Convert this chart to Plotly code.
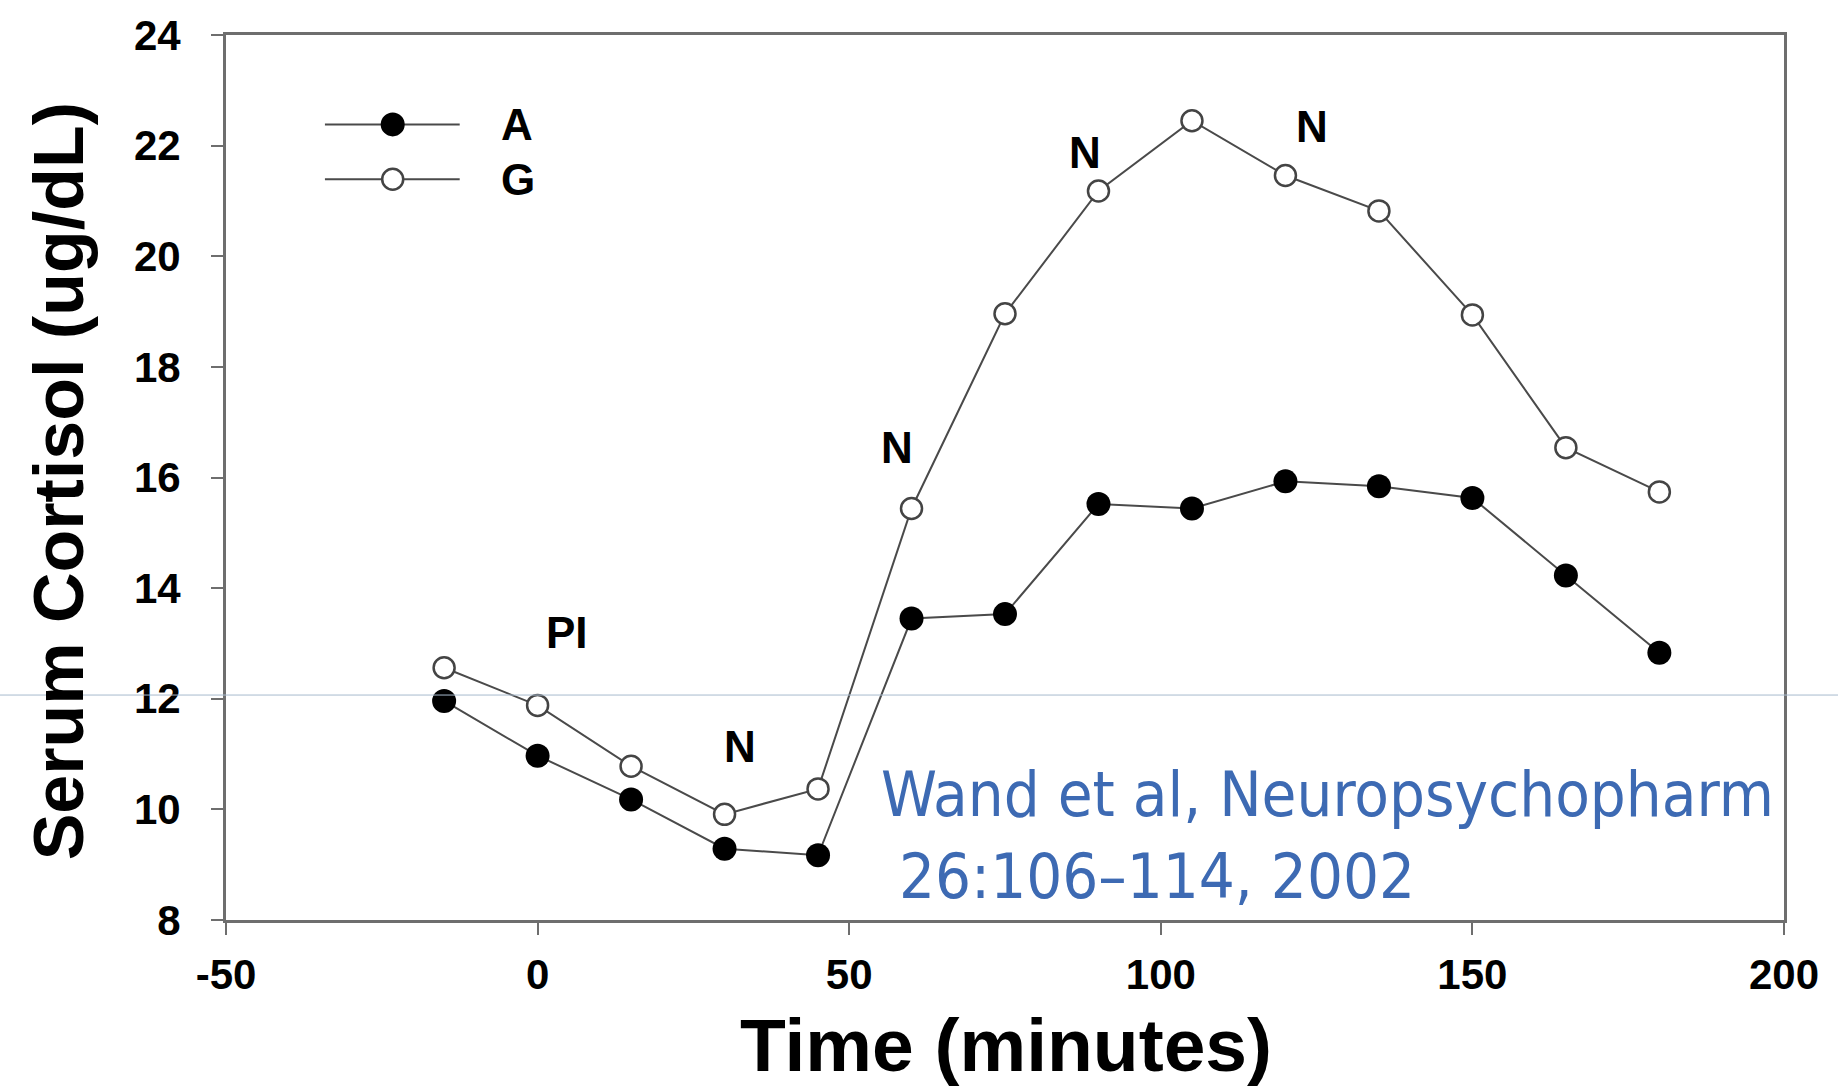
import plotly.graph_objects as go

# Sampling times (minutes) and mean serum cortisol for the two groups
time_min = [-15, 0, 15, 30, 45, 60, 75, 90, 105, 120, 135, 150, 165, 180]
cortisol_a = [11.96, 10.97, 10.18, 9.29, 9.17, 13.45, 13.53, 15.52, 15.44, 15.93, 15.84, 15.63, 14.23, 12.83]
cortisol_g = [12.56, 11.88, 10.78, 9.91, 10.37, 15.44, 18.96, 21.18, 22.45, 21.46, 20.82, 18.94, 16.54, 15.74]

x_ticks = [-50, 0, 50, 100, 150, 200]
x_tick_text = ["-50", "0", "50", "100", "150", "200"]
y_ticks = [8, 10, 12, 14, 16, 18, 20, 22, 24]

# Event labels placed over the curves (time, cortisol, text)
event_x = [4.7, 32.4, 57.6, 87.8, 124.2]
event_y = [13.19, 11.14, 16.54, 21.88, 22.35]
event_text = ["PI", "N", "N", "N", "N"]

LINE = "#4a4a4a"
AXIS = "#6e6e6e"
FONT = "Liberation Sans, Arial, sans-serif"

fig = go.Figure()
fig.add_trace(go.Scatter(
    x=time_min, y=cortisol_a, mode="lines+markers", name="A",
    line=dict(color=LINE, width=2),
    marker=dict(symbol="circle", size=24, color="#000000", line=dict(width=0)),
    showlegend=False,
))
fig.add_trace(go.Scatter(
    x=time_min, y=cortisol_g, mode="lines+markers", name="G",
    line=dict(color=LINE, width=2),
    marker=dict(symbol="circle", size=21, color="#ffffff", line=dict(color="#444444", width=2.5)),
    showlegend=False,
))

annotations = []
for ex, ey, et in zip(event_x, event_y, event_text):
    annotations.append(dict(
        x=ex, y=ey, xref="x", yref="y", text=et, showarrow=False,
        font=dict(family=FONT, size=44, color="#000000", weight="bold"),
    ))

# Hand-drawn key in the upper-left corner
shapes = []
key_rows = [(0.899, "A", "#000000", "#000000"), (0.837, "G", "#ffffff", "#444444")]
for ky, label, fill, edge in key_rows:
    shapes.append(dict(type="line", xref="paper", yref="paper",
                       x0=0.0635, x1=0.150, y0=ky, y1=ky,
                       line=dict(color=LINE, width=2)))
    r = 12 if label == "A" else 10.5
    shapes.append(dict(type="circle", xref="paper", yref="paper",
                       xsizemode="pixel", ysizemode="pixel",
                       xanchor=0.107, yanchor=ky, x0=-r, x1=r, y0=-r, y1=r,
                       fillcolor=fill, line=dict(color=edge, width=2.5 if label == "G" else 0)))
    annotations.append(dict(
        x=0.175, y=ky, xref="paper", yref="paper", text=label, showarrow=False,
        xanchor="left", yanchor="middle",
        font=dict(family=FONT, size=44, color="#000000", weight="bold"),
    ))

# Thin guide line running across the whole slide
shapes.append(dict(type="line", xref="paper", yref="paper",
                   x0=-0.2, x1=1.1, y0=0.2542, y1=0.2542,
                   line=dict(color="#a7bacd", width=1)))

# Axis titles
annotations.append(dict(
    x=0.5006, y=-0.141, xref="paper", yref="paper", text="Time (minutes)",
    showarrow=False, xanchor="center", yanchor="middle",
    font=dict(family=FONT, size=75, color="#000000", weight="bold"),
))
annotations.append(dict(
    x=-0.107, y=0.496, xref="paper", yref="paper", text="Serum Cortisol (ug/dL)",
    showarrow=False, xanchor="center", yanchor="middle", textangle=-90,
    font=dict(family=FONT, size=70, color="#000000", weight="bold"),
))

# Citation
annotations.append(dict(
    x=0.419, y=0.095, xref="paper", yref="paper",
    text="Wand et al, Neuropsychopharm<br>\u00a026:106\u2013114, 2002",
    showarrow=False, xanchor="left", yanchor="middle", align="left",
    font=dict(family="DejaVu Sans Condensed, Tahoma, DejaVu Sans, sans-serif", size=63, color="#3d6ab3"),
))

fig.update_layout(
    width=1838, height=1092,
    margin=dict(l=226, r=54, t=35, b=172),
    paper_bgcolor="#ffffff", plot_bgcolor="#ffffff",
    showlegend=False,
    shapes=shapes,
    annotations=annotations,
    xaxis=dict(
        range=[-50, 200], tickmode="array", tickvals=x_ticks, ticktext=x_tick_text,
        showgrid=False, zeroline=False,
        showline=True, linecolor=AXIS, linewidth=3, mirror=True,
        ticks="outside", ticklen=12, tickwidth=2, tickcolor=AXIS,
        ticklabelstandoff=4,
        tickfont=dict(family=FONT, size=42, color="#000000", weight="bold"),
    ),
    yaxis=dict(
        range=[8, 24], tickmode="array", tickvals=y_ticks,
        showgrid=False, zeroline=False,
        showline=True, linecolor=AXIS, linewidth=3, mirror=True,
        ticks="outside", ticklen=12, tickwidth=2, tickcolor=AXIS,
        ticklabelstandoff=22,
        tickfont=dict(family=FONT, size=42, color="#000000", weight="bold"),
    ),
)

fig.write_html("out.html")
